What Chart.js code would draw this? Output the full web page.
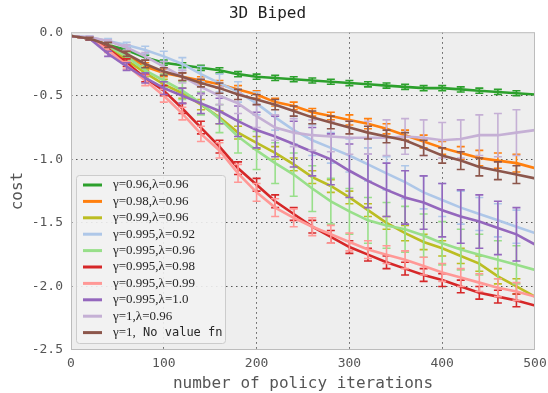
<!DOCTYPE html>
<html>
<head>
<meta charset="utf-8">
<title>3D Biped</title>
<script src="https://cdn.jsdelivr.net/npm/chart.js@4.4.0/dist/chart.umd.min.js"></script>
<style>
    html, body { margin: 0; padding: 0; background: #fff; }
    #biped { display: block; }
</style>
</head>
<body>
<canvas id="biped" width="548" height="393"></canvas>
<script>
// x positions of the samples and of the error bars
const iterations = [0, 20, 40, 60, 80, 100, 120, 140, 160, 180, 200, 220, 240, 260, 280, 300, 320, 340, 360, 380, 400, 420, 440, 460, 480, 500];
const errIterations = [20, 40, 60, 80, 100, 120, 140, 160, 180, 200, 220, 240, 260, 280, 300, 320, 340, 360, 380, 400, 420, 440, 460, 480];

const seriesLabels = ['γ=0.96,λ=0.96', 'γ=0.98,λ=0.96', 'γ=0.99,λ=0.96', 'γ=0.995,λ=0.92', 'γ=0.995,λ=0.96',
    'γ=0.995,λ=0.98', 'γ=0.995,λ=0.99', 'γ=0.995,λ=1.0', 'γ=1,λ=0.96', 'γ=1, No value fn'];
const seriesColors = ['#2ca02c', '#ff7f0e', '#bcbd22', '#aec7e8', '#98df8a', '#d62728', '#ff9896', '#9467bd', '#c5b0d5', '#8c564b'];

// mean cost per series
const costG096L096 = [-0.03, -0.05, -0.10, -0.14, -0.20, -0.24, -0.26, -0.28, -0.30, -0.33, -0.35, -0.36, -0.37, -0.38, -0.39, -0.40, -0.41, -0.42, -0.43, -0.44, -0.44, -0.45, -0.46, -0.47, -0.48, -0.49];
const costG098L096 = [-0.03, -0.05, -0.10, -0.18, -0.27, -0.32, -0.35, -0.38, -0.41, -0.45, -0.49, -0.55, -0.58, -0.63, -0.66, -0.69, -0.72, -0.76, -0.81, -0.86, -0.91, -0.95, -0.99, -1.01, -1.03, -1.07];
const costG099L096 = [-0.03, -0.05, -0.12, -0.22, -0.32, -0.41, -0.48, -0.57, -0.67, -0.79, -0.87, -0.95, -1.04, -1.14, -1.21, -1.30, -1.40, -1.50, -1.58, -1.65, -1.70, -1.76, -1.82, -1.92, -2.00, -2.08];
const costG0995L092 = [-0.03, -0.04, -0.07, -0.10, -0.14, -0.19, -0.25, -0.33, -0.40, -0.47, -0.56, -0.67, -0.77, -0.85, -0.91, -0.97, -1.04, -1.11, -1.18, -1.26, -1.32, -1.38, -1.43, -1.48, -1.53, -1.58];
const costG0995L096 = [-0.03, -0.05, -0.11, -0.19, -0.30, -0.38, -0.46, -0.56, -0.68, -0.82, -0.93, -1.03, -1.12, -1.23, -1.33, -1.41, -1.48, -1.52, -1.55, -1.60, -1.66, -1.71, -1.75, -1.79, -1.83, -1.87];
const costG0995L098 = [-0.03, -0.05, -0.13, -0.24, -0.36, -0.46, -0.60, -0.75, -0.90, -1.07, -1.20, -1.33, -1.43, -1.53, -1.61, -1.69, -1.75, -1.81, -1.86, -1.91, -1.95, -2.00, -2.05, -2.08, -2.11, -2.15];
const costG0995L099 = [-0.03, -0.05, -0.14, -0.26, -0.38, -0.50, -0.64, -0.80, -0.93, -1.11, -1.26, -1.38, -1.46, -1.53, -1.59, -1.65, -1.71, -1.75, -1.79, -1.84, -1.89, -1.93, -1.97, -2.01, -2.04, -2.08];
const costG0995L100 = [-0.03, -0.05, -0.17, -0.27, -0.36, -0.44, -0.50, -0.56, -0.62, -0.70, -0.77, -0.82, -0.88, -0.94, -1.00, -1.09, -1.17, -1.24, -1.30, -1.34, -1.40, -1.45, -1.49, -1.54, -1.59, -1.67];
const costG1L096 = [-0.03, -0.04, -0.07, -0.12, -0.19, -0.27, -0.35, -0.43, -0.50, -0.56, -0.66, -0.75, -0.79, -0.81, -0.82, -0.83, -0.83, -0.83, -0.82, -0.83, -0.85, -0.84, -0.81, -0.81, -0.79, -0.77];
const costG1NoVf = [-0.03, -0.05, -0.10, -0.17, -0.25, -0.31, -0.35, -0.40, -0.44, -0.49, -0.53, -0.57, -0.62, -0.67, -0.71, -0.75, -0.79, -0.82, -0.85, -0.91, -0.97, -1.01, -1.06, -1.09, -1.12, -1.15];

// error bar half widths, one per errIterations entry
const errG096L096 = [0.01, 0.01, 0.02, 0.02, 0.02, 0.02, 0.02, 0.02, 0.02, 0.02, 0.02, 0.02, 0.02, 0.02, 0.02, 0.02, 0.02, 0.02, 0.02, 0.02, 0.02, 0.02, 0.02, 0.02];
const errG098L096 = [0.01, 0.02, 0.03, 0.03, 0.03, 0.03, 0.03, 0.03, 0.03, 0.03, 0.03, 0.03, 0.03, 0.03, 0.04, 0.04, 0.04, 0.04, 0.05, 0.05, 0.05, 0.06, 0.06, 0.07];
const errG099L096 = [0.01, 0.02, 0.03, 0.03, 0.04, 0.04, 0.04, 0.05, 0.05, 0.05, 0.05, 0.05, 0.05, 0.05, 0.05, 0.05, 0.05, 0.06, 0.06, 0.06, 0.06, 0.06, 0.06, 0.06];
const errG0995L092 = [0.01, 0.02, 0.02, 0.03, 0.04, 0.05, 0.06, 0.07, 0.08, 0.09, 0.10, 0.11, 0.12, 0.12, 0.13, 0.13, 0.13, 0.13, 0.13, 0.13, 0.13, 0.13, 0.13, 0.13];
const errG0995L096 = [0.01, 0.02, 0.03, 0.04, 0.05, 0.07, 0.09, 0.11, 0.13, 0.15, 0.16, 0.17, 0.18, 0.18, 0.18, 0.18, 0.18, 0.18, 0.17, 0.17, 0.16, 0.16, 0.15, 0.15];
const errG0995L098 = [0.01, 0.02, 0.03, 0.03, 0.04, 0.04, 0.05, 0.05, 0.05, 0.05, 0.05, 0.05, 0.05, 0.05, 0.05, 0.05, 0.05, 0.05, 0.05, 0.05, 0.05, 0.05, 0.05, 0.05];
const errG0995L099 = [0.01, 0.02, 0.03, 0.04, 0.05, 0.05, 0.06, 0.06, 0.07, 0.07, 0.07, 0.07, 0.07, 0.07, 0.07, 0.07, 0.07, 0.07, 0.07, 0.07, 0.07, 0.07, 0.07, 0.07];
const errG0995L100 = [0.01, 0.02, 0.03, 0.04, 0.05, 0.06, 0.08, 0.10, 0.12, 0.14, 0.16, 0.18, 0.19, 0.20, 0.21, 0.21, 0.21, 0.21, 0.21, 0.21, 0.21, 0.21, 0.21, 0.21];
const errG1L096 = [0.01, 0.01, 0.02, 0.03, 0.04, 0.05, 0.06, 0.07, 0.08, 0.09, 0.10, 0.11, 0.12, 0.12, 0.13, 0.13, 0.14, 0.14, 0.14, 0.14, 0.15, 0.16, 0.17, 0.18];
const errG1NoVf = [0.01, 0.02, 0.02, 0.03, 0.03, 0.03, 0.03, 0.04, 0.04, 0.04, 0.04, 0.04, 0.05, 0.05, 0.05, 0.05, 0.05, 0.06, 0.06, 0.06, 0.07, 0.07, 0.07, 0.07];

const seriesCosts = [costG096L096, costG098L096, costG099L096, costG0995L092, costG0995L096,
    costG0995L098, costG0995L099, costG0995L100, costG1L096, costG1NoVf];
const seriesErrors = [errG096L096, errG098L096, errG099L096, errG0995L092, errG0995L096,
    errG0995L098, errG0995L099, errG0995L100, errG1L096, errG1NoVf];

const MONO = '"DejaVu Sans Mono", monospace';
const SERIF = '"Liberation Serif", "DejaVu Serif", serif';

// grey plot face and frame, like the matplotlib style of the original
const plotFrame = {
    id: 'plotFrame',
    beforeDraw(chart) {
        const { ctx, chartArea: a } = chart;
        ctx.save();
        ctx.fillStyle = '#eeeeee';
        ctx.fillRect(a.left, a.top, a.right - a.left, a.bottom - a.top);
        ctx.restore();
    },
    afterDraw(chart) {
        const { ctx, chartArea: a } = chart;
        ctx.save();
        ctx.strokeStyle = '#bcbcbc';
        ctx.lineWidth = 1;
        ctx.strokeRect(a.left + 0.5, a.top + 0.5, a.right - a.left - 1, a.bottom - a.top - 1);
        ctx.restore();
    }
};

// vertical error bars with caps, drawn right after each line
const errorBars = {
    id: 'errorBars',
    afterDatasetDraw(chart, args) {
        const ds = chart.data.datasets[args.index];
        if (!ds.errors) return;
        const { ctx, chartArea: a } = chart;
        const xs = chart.scales.x, ys = chart.scales.y;
        ctx.save();
        ctx.beginPath();
        ctx.rect(a.left, a.top, a.right - a.left, a.bottom - a.top);
        ctx.clip();
        ctx.strokeStyle = ds.borderColor;
        ctx.lineWidth = 1.6;
        ds.errors.forEach((e, i) => {
            const it = errIterations[i];
            const pt = ds.data.find(p => p.x === it);
            if (!pt) return;
            const px = xs.getPixelForValue(it);
            const top = ys.getPixelForValue(pt.y + e);
            const bot = ys.getPixelForValue(pt.y - e);
            ctx.beginPath();
            ctx.moveTo(px, top);
            ctx.lineTo(px, bot);
            ctx.moveTo(px - 4, top);
            ctx.lineTo(px + 4, top);
            ctx.moveTo(px - 4, bot);
            ctx.lineTo(px + 4, bot);
            ctx.stroke();
        });
        ctx.restore();
    }
};

// legend box in the lower left corner of the plot
const insetLegend = {
    id: 'insetLegend',
    afterDraw(chart) {
        const { ctx, chartArea: a } = chart;
        const rowH = 16.4;
        const boxW = 149, boxH = 168;
        const bx = a.left + 5, by = a.bottom - 175;
        ctx.save();
        ctx.fillStyle = 'rgba(242,242,242,0.9)';
        ctx.strokeStyle = '#cccccc';
        ctx.lineWidth = 1;
        ctx.beginPath();
        ctx.roundRect(bx + 0.5, by + 0.5, boxW, boxH, 3);
        ctx.fill();
        ctx.stroke();

        chart.data.datasets.forEach((ds, i) => {
            const y = by + 10 + i * rowH;
            ctx.strokeStyle = ds.borderColor;
            ctx.lineWidth = 3;
            ctx.beginPath();
            ctx.moveTo(bx + 7, y);
            ctx.lineTo(bx + 26, y);
            ctx.stroke();

            ctx.fillStyle = '#262626';
            ctx.textBaseline = 'middle';
            let tx = bx + 37;
            const parts = ds.label.split(', ');
            ctx.font = '13px ' + SERIF;
            if (parts.length > 1) {
                const head = parts[0] + ',';
                ctx.fillText(head, tx, y);
                tx += ctx.measureText(head).width;
                ctx.font = '12px ' + MONO;
                ctx.fillText(' ' + parts[1], tx, y);
            } else {
                ctx.fillText(ds.label, tx, y);
            }
        });
        ctx.restore();
    }
};

const datasets = seriesLabels.map((label, i) => ({
    label: label,
    data: iterations.map((it, j) => ({ x: it, y: seriesCosts[i][j] })),
    errors: seriesErrors[i],
    borderColor: seriesColors[i],
    backgroundColor: seriesColors[i],
    borderWidth: 2.6,
    pointRadius: 0,
    tension: 0,
    // later series sit on top, as in the original
    order: seriesLabels.length - i
}));

const hideEdges = (lo, hi) => (c) =>
    (c.tick && (c.tick.value === lo || c.tick.value === hi)) ? 'rgba(0,0,0,0)' : '#555555';

// the tick labels may overhang the plot, so drop the scale's own edge padding
const noEdgePadding = (scale, size) => {
    if (scale.isHorizontal()) scale.height = size; else scale.width = size;
    scale.paddingLeft = 0;
    scale.paddingRight = 0;
    scale.paddingTop = 0;
    scale.paddingBottom = 0;
};

new Chart(document.getElementById('biped'), {
    type: 'line',
    data: { datasets: datasets },
    options: {
        responsive: false,
        animation: false,
        devicePixelRatio: 1,
        layout: { padding: { left: 0, right: 13, top: 0, bottom: 0 } },
        plugins: {
            legend: { display: false },
            tooltip: { enabled: false },
            title: {
                display: true,
                text: '3D Biped',
                color: '#222222',
                font: { family: MONO, size: 16, weight: 'normal' },
                padding: { top: 4, bottom: 9 }
            }
        },
        scales: {
            x: {
                type: 'linear',
                min: 0,
                max: 500,
                ticks: { stepSize: 100, color: '#555555', font: { family: MONO, size: 13 }, padding: 6 },
                grid: { color: hideEdges(0, 500), lineWidth: 1, drawTicks: false },
                border: { display: false, dash: [1.5, 3.5] },
                title: {
                    display: true,
                    text: 'number of policy iterations',
                    color: '#555555',
                    font: { family: MONO, size: 16 },
                    padding: { top: 1, bottom: 0 }
                },
                afterFit: (scale) => noEdgePadding(scale, 43)
            },
            y: {
                min: -2.5,
                max: 0,
                ticks: {
                    stepSize: 0.5,
                    color: '#555555',
                    font: { family: MONO, size: 13 },
                    padding: 8,
                    callback: (v) => v.toFixed(1)
                },
                grid: { color: hideEdges(0, -2.5), lineWidth: 1, drawTicks: false },
                border: { display: false, dash: [1.5, 3.5] },
                title: {
                    display: true,
                    text: 'cost',
                    color: '#555555',
                    font: { family: MONO, size: 16 },
                    padding: { top: 8, bottom: 0 }
                },
                afterFit: (scale) => noEdgePadding(scale, 71)
            }
        }
    },
    plugins: [plotFrame, errorBars, insetLegend]
});
</script>
</body>
</html>
